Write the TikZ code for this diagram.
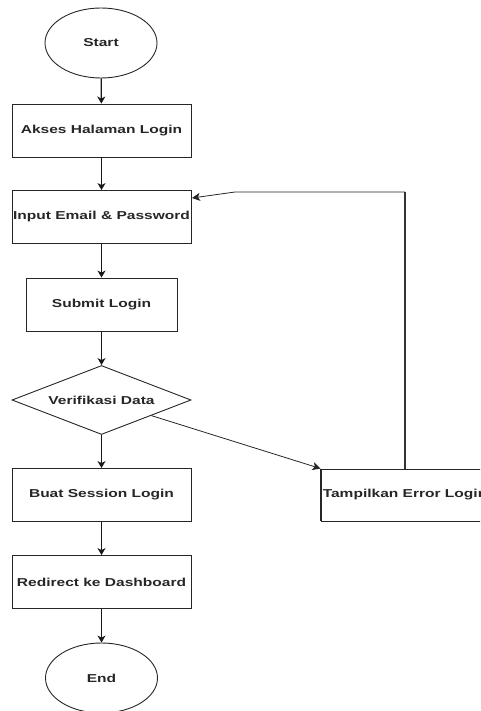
\documentclass[tikz,border=0pt]{standalone}
\usepackage{fontspec}
\setmainfont{Liberation Sans}
\usetikzlibrary{shapes.geometric,arrows.meta}
\newcommand{\lbl}[1]{\scalebox{1.35}[1]{\bfseries #1}}
\tikzset{
  base/.style={draw=black!85, line width=0.9pt, inner sep=0pt, font=\fontsize{11.5}{13}\selectfont, text=black!85},
  term/.style={base, ellipse, minimum width=112pt, minimum height=70pt},
  proc/.style={base, rectangle, minimum width=179pt, minimum height=53pt},
  dec/.style={base, diamond, shape aspect=2.6, minimum width=179pt, minimum height=69pt},
  flow/.style={draw=black!90, line width=1.3pt, -{Stealth[length=7pt,width=8pt,inset=2pt]}},
  thin/.style={draw=black!85, line width=0.8pt, -{Stealth[length=8pt,width=8pt,inset=2pt]}},
  loop/.style={draw=black!80, line width=1.7pt}
}
\begin{document}
\begin{tikzpicture}[x=1pt,y=-1pt]
\useasboundingbox (0,0) rectangle (480,711);
\clip (0,0) rectangle (480,711);
\node[term] (start) at (101,43) {\lbl{Start}};
\node[proc] (akses) at (101.5,130.5) {\lbl{Akses Halaman Login}};
\node[proc] (inp) at (101.5,217) {\lbl{Input Email \& Password}};
\node[proc, minimum width=151pt] (sub) at (101.5,304.5) {\lbl{Submit Login}};
\node[dec] (dia) at (101.5,400) {\lbl{Verifikasi Data}};
\node[proc] (buat) at (101.5,495) {\lbl{Buat Session Login}};
\node[proc] (redir) at (101.5,582) {\lbl{Redirect ke Dashboard}};
\node[term] (end) at (101.5,678) {\lbl{End}};
\node[proc, minimum width=168pt, minimum height=52pt] (err) at (405,495) {\lbl{Tampilkan Error Login}};
\draw[line width=1.6pt, black!85] (err.north west) -- (err.south west);
\coordinate (c1) at (405,192);
\coordinate (c2) at (235,192);
\coordinate (c3) at (192,198);
\draw[flow] (start) -- (akses);
\draw[flow, line width=1pt] (akses) -- (inp);
\draw[flow, line width=1pt] (inp) -- (sub);
\draw[flow, line width=1pt] (sub) -- (dia);
\draw[flow] (dia) -- (buat);
\draw[flow, line width=1pt] (buat) -- (redir);
\draw[flow] (redir) -- (end);
\draw[thin] (dia) -- (err.north west);
\draw[loop] (err.north) -- (c1);
\draw[thin] (c1) -- (c2) -- (c3);
\end{tikzpicture}
\end{document}
